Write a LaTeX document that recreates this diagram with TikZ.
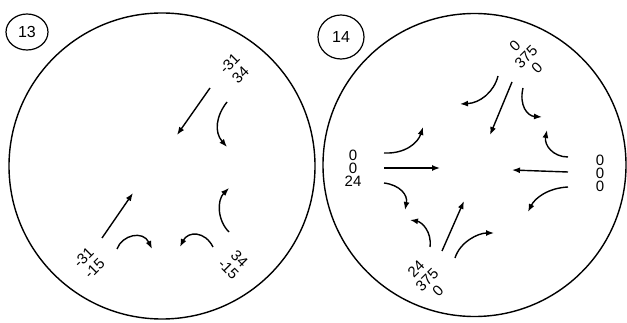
\documentclass[tikz,border=0pt]{standalone}
\usepackage{fontspec}
\setmainfont{Liberation Sans}
\usepackage{tikz}
\usetikzlibrary{arrows.meta}

\begin{document}
\begin{tikzpicture}[x=1pt,y=-1pt,line width=1.4pt,
  arr/.style={-{Latex[length=8pt,width=6pt]}},
  lbl/.style={align=center,inner sep=0pt,font=\fontsize{15}{13}\selectfont},
  rlbl/.style={align=center,inner sep=0pt,font=\fontsize{15}{15.5}\selectfont},
  tag/.style={inner sep=0pt,font=\fontsize{16}{16}\selectfont}]
  \useasboundingbox (0,0) rectangle (627,323);
  \draw (162,166) circle (153);
  \draw (474.5,165) circle (151.5);
  \draw[line width=1.2pt] (27,32) ellipse (21 and 18);
  \node[tag] (t13) at (27,32) {13};
  \draw[line width=1.2pt] (341,37) ellipse (23 and 22);
  \node[tag] (t14) at (341,37) {14};
  \node[rlbl,rotate=45] (a1) at (235,69) {-31\\34};
  \node[rlbl,rotate=45] (a2) at (89,263) {-31\\-15};
  \node[rlbl,rotate=-45] (a3) at (234,264) {34\\-15};
  \draw[arr] (210,88) -- (177,135);
  \draw[arr] (227,102) .. controls (216,116) and (214,132) .. (227,147);
  \draw[arr] (102,238) -- (133,193);
  \draw[arr] (117,249) .. controls (122,235) and (143,230) .. (152,249);
  \draw[arr] (229,232) .. controls (217,220) and (217,200) .. (229,188);
  \draw[arr] (213,247) .. controls (205,231) and (188,231) .. (180,247);
  \node[rlbl,rotate=45] (b1) at (526,57) {0\\375\\0};
  \node[rlbl,rotate=45] (b2) at (427,280) {24\\375\\0};
  \node[lbl] (b3) at (353,168) {0\\0\\24};
  \node[lbl] (b4) at (600,173) {0\\0\\0};
  \draw[arr] (512,82) -- (490,135);
  \draw[arr] (498,76) .. controls (494,92) and (480,103) .. (460,104);
  \draw[arr] (523,88) .. controls (519,105) and (527,116) .. (542,117);
  \draw[arr] (384,168) -- (440,168);
  \draw[arr] (384,153) .. controls (405,154) and (418,143) .. (423,127);
  \draw[arr] (384,183) .. controls (400,185) and (408,195) .. (405,210);
  \draw[arr] (568,172) -- (512,170);
  \draw[arr] (568,157) .. controls (553,157) and (544,145) .. (547,130);
  \draw[arr] (568,187) .. controls (548,188) and (535,198) .. (528,212);
  \draw[arr] (442,251) -- (464,201);
  \draw[arr] (430,247) .. controls (432,232) and (422,222) .. (410,220);
  \draw[arr] (455,258) .. controls (460,242) and (478,233) .. (494,233);
\end{tikzpicture}
\end{document}
